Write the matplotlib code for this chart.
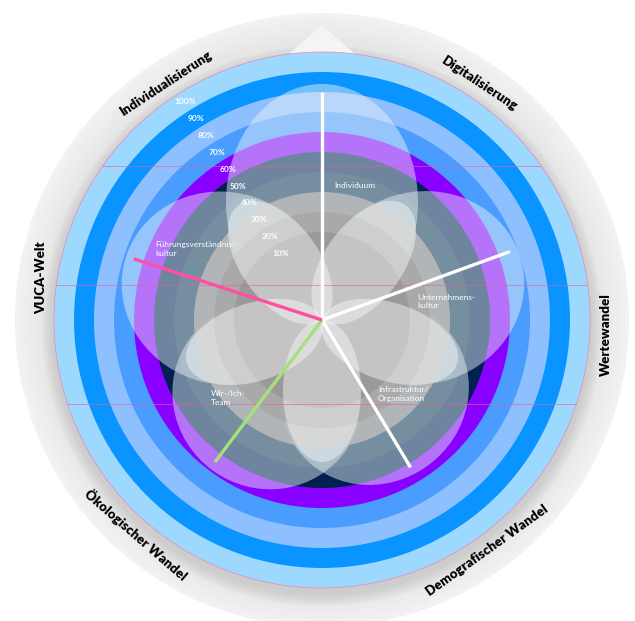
import numpy as np
import matplotlib
matplotlib.use('Agg')
import matplotlib.pyplot as plt
from matplotlib.patches import Circle, Ellipse, Polygon

plt.rcParams['font.family'] = ['Lato', 'DejaVu Sans']

# Daten
dimensions = ['Individuum', 'Unternehmens-\nkultur', 'Infrastruktur/\nOrganisation',
              'Wir-/Ich-\nTeam', 'Führungsverständnis/-\nkultur']
dim_values = [80, 66, 52, 55, 65]            # Prozent
spoke_angles = [90, 20, -59, -127, 162]
petal_angles = [90, 18, -54, -126, 162]
spoke_colors = ['white', 'white', 'white', '#a6e07a', '#ff4fa3']

ring_labels = ['100%', '90%', '80%', '70%', '60%', '50%', '40%', '30%', '20%', '10%']
ring_colors = ['#9dd9ff', '#0a94ff', '#8ebfff', '#4a9cff', '#8800ff',
               '#002050', '#0c3352', '#bcbcbc', '#a8a8a8', '#989898']
core_color = '#9a9a9a'

trends = ['Individualisierung', 'Digitalisierung', 'Wertewandel',
          'Demografischer Wandel', 'Ökologischer Wandel', 'VUCA-Welt']
trend_angles = [123.4, 56.5, -3, -54.4, -131, 171.5]
trend_rot = [33.4, -33.5, 90, 35.6, -41, 90]

# Layout (Pixel)
W, H = 635, 621
cx, cy = 322, 301
R0, R1 = 68, 268       # 0% und 100%
R_OUT = 307


def pol(ang, r):
    a = np.deg2rad(ang)
    return cx + r * np.cos(a), cy + r * np.sin(a)


def val2r(p):
    return R0 + p * (R1 - R0) / 100.0


fig = plt.figure(figsize=(W / 100, H / 100), dpi=100)
ax = fig.add_axes([0, 0, 1, 1])
ax.set_xlim(0, W)
ax.set_ylim(0, H)
ax.set_aspect('equal')
ax.axis('off')

# grauer Außenring mit Verlauf
for r, g in zip(np.linspace(R_OUT, R1 + 2, 25), np.linspace(0.95, 0.89, 25)):
    ax.add_patch(Circle((cx, cy), r, color=(g, g, g), lw=0, zorder=1))
# Schatten unter der Scheibe
for k in range(6):
    ax.add_patch(Circle((cx, cy - 6), R1 + 12 - k * 2, color='#b0b0b0',
                        alpha=0.08, lw=0, zorder=2))
# Pfeil oben
ax.add_patch(Polygon([pol(90, R1 + 27), (cx - 33, cy + R1 - 2), (cx + 33, cy + R1 - 2)],
                     closed=True, color='#f4f4f4', lw=0, zorder=3))

# farbige Ringe (außen -> innen)
for i, col in enumerate(ring_colors):
    p = 100 - 10 * i
    if p >= 40:
        ax.add_patch(Circle((cx, cy), val2r(p), color=col, lw=0, zorder=4))
    else:
        ax.add_patch(Circle((cx, cy), val2r(p), color=col, alpha=0.85, lw=0, zorder=6))
ax.add_patch(Circle((cx, cy), R0, color=core_color, alpha=0.85, lw=0, zorder=6))
ax.add_patch(Circle((cx, cy), R1, fill=False, ec='#e58fc0', lw=0.6, zorder=4.5))

# große Blütenblätter, Länge nach Wert
for a, v in zip(petal_angles, dim_values):
    tip = val2r(v) + 8
    ax.add_patch(Ellipse(pol(a, tip / 2), tip, 192, angle=a, color='#e8f2f6',
                         alpha=0.48, lw=0, zorder=5))

# kleine Blütenblätter (versetzt)
for a in petal_angles:
    ax.add_patch(Ellipse(pol(a + 36, 71), 142, 78, angle=a + 36, color='white',
                         alpha=0.42, lw=0, zorder=7))

# Hilfslinien (pink)
disc = Circle((cx, cy), R1, transform=ax.transData)
for yy in [455, 336, 217]:
    ln, = ax.plot([0, W], [yy, yy], color='#e8609a', lw=0.6, alpha=0.7, zorder=8)
    ln.set_clip_path(disc)

# Speichen
for a, v, c in zip(spoke_angles, dim_values, spoke_colors):
    x1, y1 = pol(a, val2r(v))
    ax.plot([cx, x1], [cy, y1], color=c, lw=2.4, solid_capstyle='butt', zorder=9)

# Prozentbeschriftung
for i, lab in enumerate(ring_labels):
    p = 100 - 10 * i
    x, y = pol(122, val2r(p) - 10)
    ax.text(x, y, lab, color='white', fontsize=6, fontweight='bold',
            ha='center', va='center', zorder=10)

# Dimensionsbeschriftung
label_pos = [(85, 135), (11, 97), (-53, 93), (-145, 136), (157, 181)]
for lab, (a, r) in zip(dimensions, label_pos):
    x, y = pol(a, r)
    ax.text(x, y, lab, color='white', fontsize=6, ha='left', va='center',
            linespacing=1.3, zorder=10)

# Trends im Außenring
for t, a, rot in zip(trends, trend_angles, trend_rot):
    x, y = pol(a, 284)
    ax.text(x, y, t, fontsize=9.5, fontweight='heavy', color='black',
            rotation=rot, ha='center', va='center', rotation_mode='anchor', zorder=10)

fig.savefig('out.png', dpi=100, facecolor='white')
